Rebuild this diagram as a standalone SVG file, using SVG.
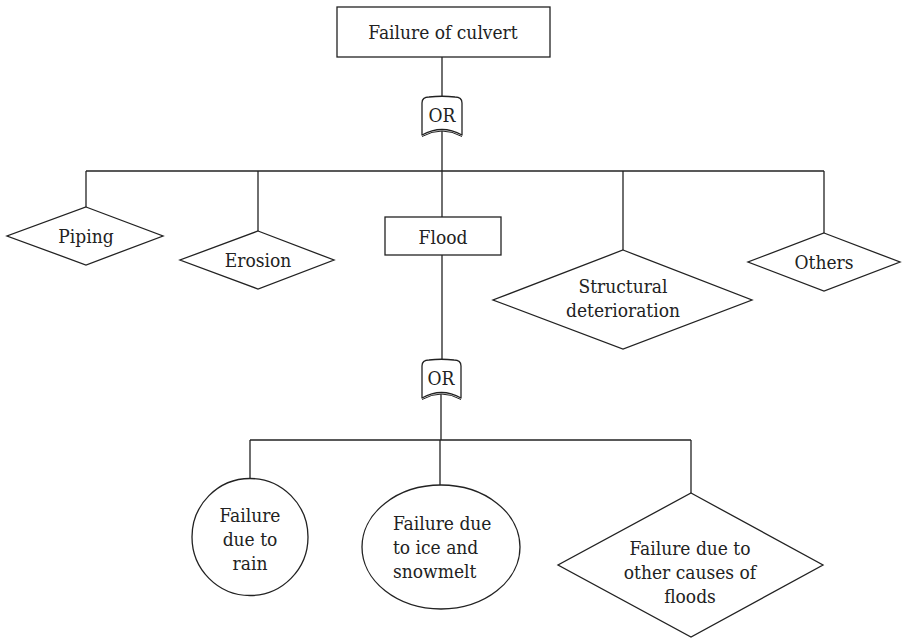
<svg xmlns="http://www.w3.org/2000/svg" width="902" height="639" viewBox="0 0 902 639">
  <style>
    .shape { fill: #ffffff; stroke: #222222; stroke-width: 1.3; }
    .gate { fill: #ffffff; stroke: #222222; stroke-width: 1.3; stroke-linejoin: round; }
    .gate-edge { fill: none; stroke: #222222; stroke-width: 1; }
    .wire { fill: none; stroke: #222222; stroke-width: 1.3; }
    text { font-family: "DejaVu Serif", serif; font-stretch: condensed; font-size: 19px; fill: #222222; text-anchor: middle; }
    text.left { text-anchor: start; }
  </style>

  <!-- connectors -->
  <g id="connectors">
    <path class="wire" d="M442,57 V97"/>
    <path class="wire" d="M442,131 V171"/>
    <path class="wire" d="M86,171 H824"/>
    <path class="wire" d="M86,171 V207"/>
    <path class="wire" d="M258,171 V231"/>
    <path class="wire" d="M442,171 V217"/>
    <path class="wire" d="M623,171 V250"/>
    <path class="wire" d="M824,171 V233"/>
    <path class="wire" d="M442,255 V360"/>
    <path class="wire" d="M441,394 V440"/>
    <path class="wire" d="M250,440 H691"/>
    <path class="wire" d="M250,440 V478"/>
    <path class="wire" d="M440,440 V485"/>
    <path class="wire" d="M691,440 V493"/>
  </g>

  <!-- top event -->
  <g id="top-event">
    <rect class="shape" x="337" y="7" width="213" height="50"/>
    <text x="443" y="39">Failure of culvert</text>
  </g>

  <!-- OR gate under the top event -->
  <g id="gate-or-1">
    <path class="gate" d="M422,135 L422,103 Q422,97 429,97 Q442,95.5 455,97 Q462,97 462,103 L462,135 Q442,124 422,135 Z"/>
    <path class="gate-edge" d="M422,136.5 Q442,125.5 462,136.5"/>
    <text x="442" y="122">OR</text>
  </g>

  <g id="piping">
    <polygon class="shape" points="86,207 163,236 86,265 7,236"/>
    <text x="86" y="243">Piping</text>
  </g>

  <g id="erosion">
    <polygon class="shape" points="258,231 334,260 258,289 180,260"/>
    <text x="258" y="267">Erosion</text>
  </g>

  <g id="flood">
    <rect class="shape" x="385" y="217" width="116" height="38"/>
    <text x="443" y="244">Flood</text>
  </g>

  <g id="structural-deterioration">
    <polygon class="shape" points="623,250 752,300 623,349 493,300"/>
    <text x="623" y="293">Structural</text>
    <text x="623" y="317">deterioration</text>
  </g>

  <g id="others">
    <polygon class="shape" points="824,233 900,262 824,291 748,262"/>
    <text x="824" y="269">Others</text>
  </g>

  <!-- OR gate under Flood -->
  <g id="gate-or-2">
    <path class="gate" d="M422,398 L422,366 Q422,360 429,360 Q441,358.5 454,360 Q461,360 461,366 L461,398 Q441.5,387 422,398 Z"/>
    <path class="gate-edge" d="M422,399.5 Q441.5,388.5 461,399.5"/>
    <text x="441" y="385">OR</text>
  </g>

  <g id="rain">
    <ellipse class="shape" cx="250" cy="537" rx="58" ry="58.5"/>
    <text x="250" y="522">Failure</text>
    <text x="250" y="546">due to</text>
    <text x="250" y="570">rain</text>
  </g>

  <g id="ice-snowmelt">
    <ellipse class="shape" cx="441" cy="547" rx="79" ry="62"/>
    <text class="left" x="393" y="530">Failure due</text>
    <text class="left" x="393" y="554">to ice and</text>
    <text class="left" x="393" y="578">snowmelt</text>
  </g>

  <g id="other-flood-causes">
    <polygon class="shape" points="691,493 823,565 691,637 558,565"/>
    <text x="690" y="555">Failure due to</text>
    <text x="690" y="579">other causes of</text>
    <text x="690" y="603">floods</text>
  </g>
</svg>
